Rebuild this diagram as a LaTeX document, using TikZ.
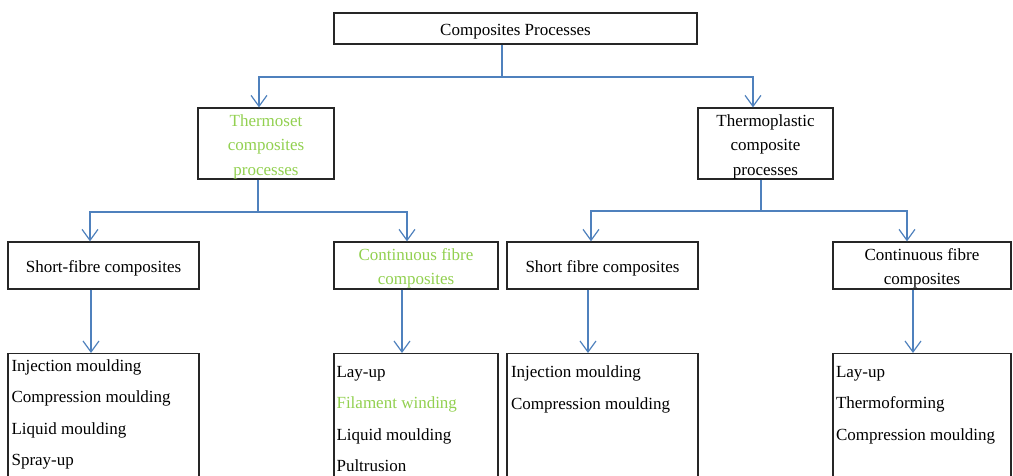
\documentclass[tikz,border=0pt]{standalone}
\usepackage{fontspec}
\setmainfont{Liberation Serif}
\usepackage{tikz}
\usetikzlibrary{arrows.meta,positioning}
\definecolor{linkblue}{RGB}{79,129,189}
\definecolor{procgreen}{RGB}{146,208,80}
\newcommand{\boxstrut}{\rule{0pt}{18pt}}
\tikzstyle{arrow} = [line width=1.2pt,-{Straight Barb[length=11pt,width=16pt]},color=linkblue]
\tikzstyle{link} = [line width=1.2pt,color=linkblue]
\tikzstyle{procbox} = [rectangle, draw=black!85, line width=1.3pt, align=center, inner sep=0pt]
\tikzstyle{listbox} = [rectangle, draw=black!85, line width=1.3pt, anchor=north, minimum height=160pt]
\tikzstyle{listtext} = [align=left, inner sep=0pt, font=\fontsize{17}{31.5}\selectfont]

\begin{document}
\begin{tikzpicture}[x=1pt, y=-1pt, font=\fontsize{17}{24.5}\selectfont]
\useasboundingbox (0,0) rectangle (1013,475);
\clip (0,0) rectangle (1013,475);
% Root
\node[procbox, minimum width=363pt, minimum height=31pt] (root) at (515.5,28.5) {\boxstrut Composites Processes};

% Families
\node[procbox, minimum width=136pt, minimum height=71pt, text=procgreen] (thermoset) at (266,143.5) {\boxstrut Thermoset\\composites\\processes};
\node[procbox, minimum width=135pt, minimum height=71pt] (thermoplastic) at (765.5,143.5) {\boxstrut Thermoplastic\\composite\\processes};

% Fibre types
\node[procbox, minimum width=191pt, minimum height=47pt] (tsShort) at (103.5,265.5) {\boxstrut Short-fibre composites};
\node[procbox, minimum width=164pt, minimum height=47pt, text=procgreen] (tsCont) at (416,265.5) {\boxstrut Continuous fibre\\composites};
\node[procbox, minimum width=191pt, minimum height=47pt] (tpShort) at (602.5,265.5) {\boxstrut Short fibre composites};
\node[procbox, minimum width=178pt, minimum height=47pt] (tpCont) at (922,265.5) {\boxstrut Continuous fibre\\composites};

% Process lists
\node[listbox, minimum width=191pt] (tsShortList) at (103.5,353) {};
\node[listtext, below right=6pt and 4pt of tsShortList.north west] (tsShortItems) {Injection moulding\\Compression moulding\\Liquid moulding\\Spray-up};
\node[listbox, minimum width=164pt] (tsContList) at (416,353) {};
\node[listtext, below right=13pt and 3pt of tsContList.north west] (tsContItems) {Lay-up\\\textcolor{procgreen}{Filament winding}\\Liquid moulding\\Pultrusion};
\node[listbox, minimum width=191pt] (tpShortList) at (602.5,353) {};
\node[listtext, below right=12.5pt and 4.5pt of tpShortList.north west] (tpShortItems) {Injection moulding\\Compression moulding};
\node[listbox, minimum width=178pt] (tpContList) at (922,353) {};
\node[listtext, below right=13pt and 3.5pt of tpContList.north west] (tpContItems) {Lay-up\\Thermoforming\\Compression moulding};

% Links
\coordinate (rootHub) at (502,77);
\draw[link] (root.south -| rootHub) -- (rootHub);
\draw[arrow] (rootHub) -| ([xshift=-7pt]thermoset.north);
\draw[arrow] (rootHub) -| ([xshift=-12.5pt]thermoplastic.north);

\coordinate (tsHub) at (258,212);
\draw[link] (thermoset.south -| tsHub) -- (tsHub);
\draw[arrow] (tsHub) -| ([xshift=-13.5pt]tsShort.north);
\draw[arrow] (tsHub) -| ([xshift=-9pt]tsCont.north);

\coordinate (tpHub) at (761,211);
\draw[link] (thermoplastic.south -| tpHub) -- (tpHub);
\draw[arrow] (tpHub) -| ([xshift=-11.5pt]tpShort.north);
\draw[arrow] (tpHub) -| ([xshift=-15pt]tpCont.north);

\draw[arrow] ([xshift=-12.5pt]tsShort.south) -- ([xshift=-12.5pt]tsShortList.north);
\draw[arrow] ([xshift=-14pt]tsCont.south) -- ([xshift=-14pt]tsContList.north);
\draw[arrow] ([xshift=-14.5pt]tpShort.south) -- ([xshift=-14.5pt]tpShortList.north);
\draw[arrow] ([xshift=-9pt]tpCont.south) -- ([xshift=-9pt]tpContList.north);
\end{tikzpicture}
\end{document}
